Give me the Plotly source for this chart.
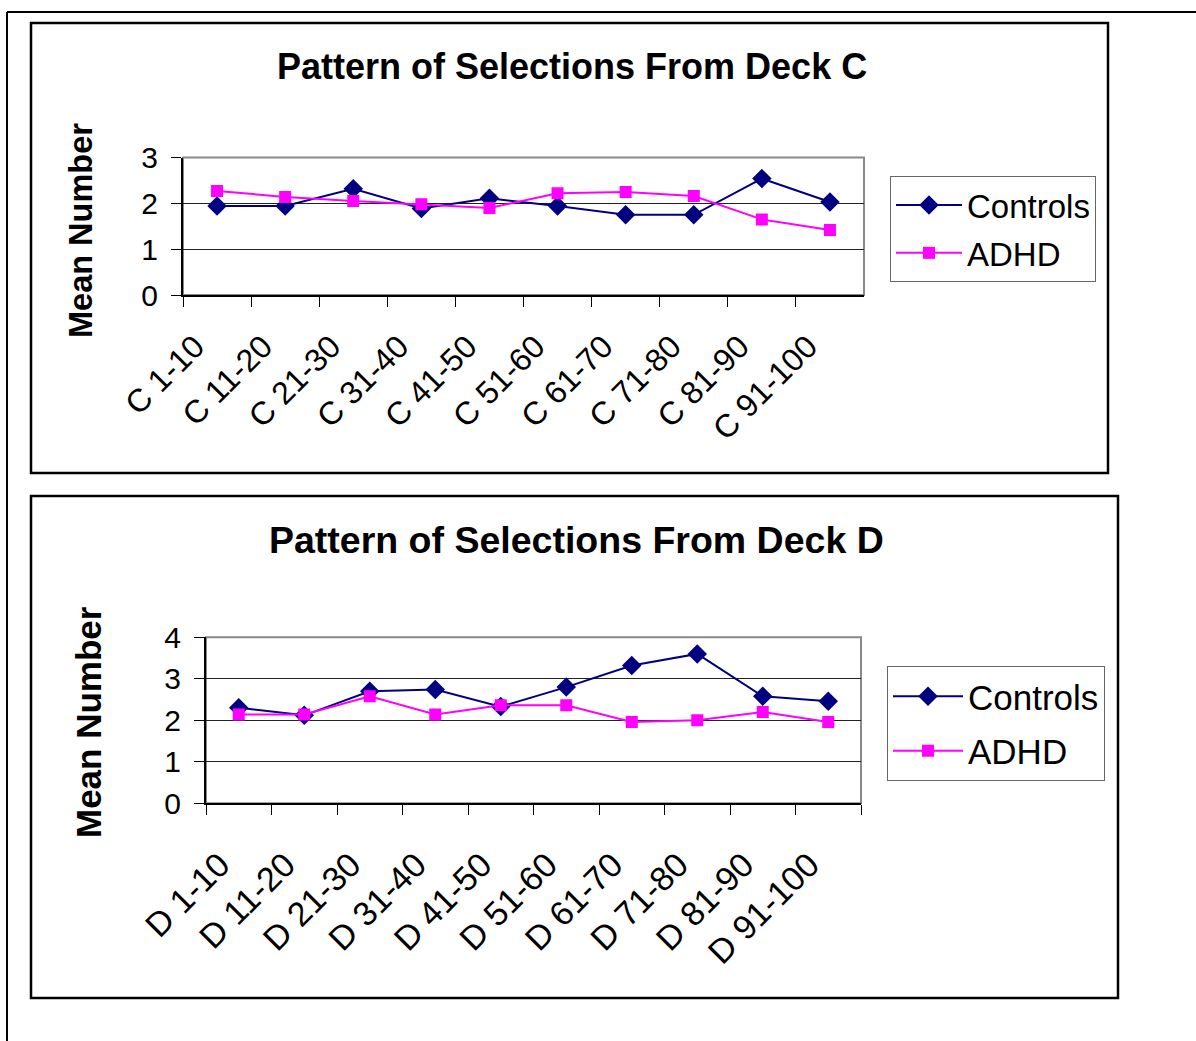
import plotly.graph_objects as go

W, H = 1196, 1041

cats_c = ["C 1-10", "C 11-20", "C 21-30", "C 31-40", "C 41-50",
          "C 51-60", "C 61-70", "C 71-80", "C 81-90", "C 91-100"]
controls_c = [1.94, 1.94, 2.32, 1.89, 2.11, 1.94, 1.75, 1.75, 2.54, 2.03]
adhd_c = [2.27, 2.14, 2.05, 1.98, 1.90, 2.22, 2.25, 2.16, 1.65, 1.42]

cats_d = ["D 1-10", "D 11-20", "D 21-30", "D 31-40", "D 41-50",
          "D 51-60", "D 61-70", "D 71-80", "D 81-90", "D 91-100"]
controls_d = [2.30, 2.12, 2.70, 2.74, 2.33, 2.80, 3.32, 3.60, 2.58, 2.46]
adhd_d = [2.14, 2.14, 2.58, 2.14, 2.36, 2.36, 1.96, 2.00, 2.20, 1.96]

title_c = "Pattern of Selections From Deck C"
title_d = "Pattern of Selections From Deck D"
y_title = "Mean Number"

FONT = "Liberation Sans, Arial, sans-serif"
NAVY = "#000080"
MAGENTA = "#FF00FF"


def px(x):
    return x / W


def py(y):
    return 1 - y / H


fig = go.Figure()

fig.add_trace(go.Scatter(x=cats_c, y=controls_c, name="Controls", mode="lines+markers",
                         line=dict(color=NAVY, width=2),
                         marker=dict(symbol="diamond", size=15, color=NAVY),
                         xaxis="x", yaxis="y", legend="legend", legendgroup="c1"))
fig.add_trace(go.Scatter(x=cats_c, y=adhd_c, name="ADHD", mode="lines+markers",
                         line=dict(color=MAGENTA, width=2),
                         marker=dict(symbol="square", size=12, color=MAGENTA),
                         xaxis="x", yaxis="y", legend="legend", legendgroup="a1"))
fig.add_trace(go.Scatter(x=cats_d, y=controls_d, name="Controls", mode="lines+markers",
                         line=dict(color=NAVY, width=2),
                         marker=dict(symbol="diamond", size=15, color=NAVY),
                         xaxis="x2", yaxis="y2", legend="legend2", legendgroup="c2"))
fig.add_trace(go.Scatter(x=cats_d, y=adhd_d, name="ADHD", mode="lines+markers",
                         line=dict(color=MAGENTA, width=2),
                         marker=dict(symbol="square", size=12, color=MAGENTA),
                         xaxis="x2", yaxis="y2", legend="legend2", legendgroup="a2"))

xcommon = dict(type="category", tickson="boundaries", ticks="outside", ticklen=10,
               tickcolor="#000", tickwidth=1, showline=True, linecolor="#000", linewidth=2,
               showgrid=False, tickangle=-45, range=[-0.5, 9.5],
               automargin=False, fixedrange=True)
ycommon = dict(ticks="outside", ticklen=10, tickcolor="#000", tickwidth=1, showline=True,
               linecolor="#000", linewidth=2, showgrid=True, gridcolor="#222", gridwidth=1,
               dtick=1, zeroline=False, tickfont=dict(family=FONT, size=30, color="#000"),
               ticklabelstandoff=7, automargin=False, fixedrange=True)

shapes = [
    # outer frame
    dict(type="line", xref="paper", yref="paper", x0=px(7), x1=1, y0=py(12), y1=py(12),
         line=dict(color="#000", width=2)),
    dict(type="line", xref="paper", yref="paper", x0=px(7), x1=px(7), y0=py(12), y1=0,
         line=dict(color="#000", width=2)),
    # chart boxes
    dict(type="rect", xref="paper", yref="paper", x0=px(31), x1=px(1108), y0=py(473), y1=py(23),
         line=dict(color="#000", width=2.5)),
    dict(type="rect", xref="paper", yref="paper", x0=px(31), x1=px(1118), y0=py(998), y1=py(496),
         line=dict(color="#000", width=2.5)),
    # plot area borders (gray)
    dict(type="rect", xref="x domain", yref="y domain", x0=0, x1=1, y0=0, y1=1,
         line=dict(color="#888", width=2), layer="below"),
    dict(type="rect", xref="x2 domain", yref="y2 domain", x0=0, x1=1, y0=0, y1=1,
         line=dict(color="#888", width=2), layer="below"),
]

annotations = [
    dict(text=f"<b>{title_c}</b>", x=px(572), y=py(66), xref="paper", yref="paper",
         showarrow=False, xanchor="center", yanchor="middle",
         font=dict(family=FONT, size=36, color="#000")),
    dict(text=f"<b>{title_d}</b>", x=px(576), y=py(540), xref="paper", yref="paper",
         showarrow=False, xanchor="center", yanchor="middle",
         font=dict(family=FONT, size=37.5, color="#000")),
    dict(text=f"<b>{y_title}</b>", x=px(81), y=py(231), xref="paper", yref="paper",
         showarrow=False, xanchor="center", yanchor="middle", textangle=-90,
         font=dict(family=FONT, size=32.5, color="#000")),
    dict(text=f"<b>{y_title}</b>", x=px(88), y=py(722), xref="paper", yref="paper",
         showarrow=False, xanchor="center", yanchor="middle", textangle=-90,
         font=dict(family=FONT, size=35, color="#000")),
]

legend_common = dict(bgcolor="#fff", bordercolor="#666", borderwidth=1,
                     xanchor="left", yanchor="top")

fig.update_layout(
    template="none",
    width=W, height=H, autosize=False,
    margin=dict(l=0, r=0, t=0, b=0, pad=0),
    paper_bgcolor="#fff", plot_bgcolor="#fff",
    font=dict(family=FONT, color="#000"),
    xaxis=dict(domain=[px(183), px(864)], anchor="y",
               tickfont=dict(family=FONT, size=32, color="#000"),
               ticklabelshift=-22, ticklabelstandoff=18, **xcommon),
    yaxis=dict(domain=[py(295), py(157.5)], anchor="x", range=[0, 3], **ycommon),
    xaxis2=dict(domain=[px(206), px(861)], anchor="y2",
                tickfont=dict(family=FONT, size=34, color="#000"),
                ticklabelshift=-19, ticklabelstandoff=26, **xcommon),
    yaxis2=dict(domain=[py(803.3), py(637.3)], anchor="x2", range=[0, 4], **ycommon),
    legend=dict(x=px(890), y=py(176), tracegroupgap=2, itemwidth=66,
                font=dict(family=FONT, size=33, color="#000"), **legend_common),
    legend2=dict(x=px(887), y=py(666), tracegroupgap=6, itemwidth=70,
                 font=dict(family=FONT, size=35, color="#000"), **legend_common),
    shapes=shapes,
    annotations=annotations,
    showlegend=True,
)

fig.write_html("out.html", config={"displayModeBar": False},
               post_script="document.body.style.margin='0px';")
